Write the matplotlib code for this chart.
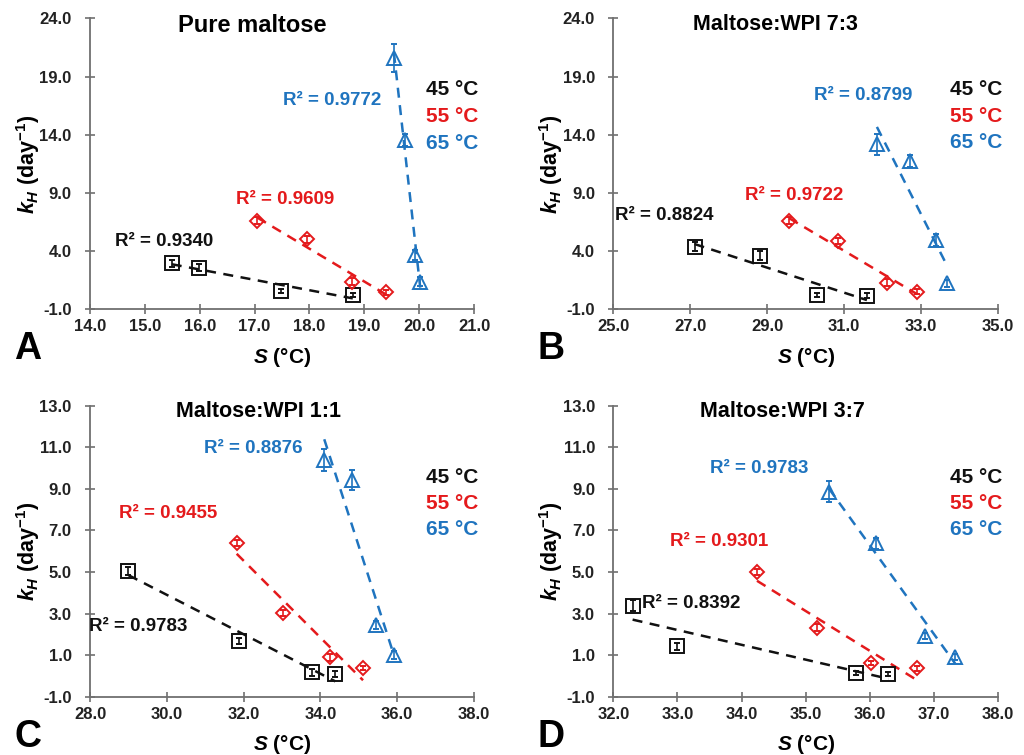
import numpy as np
import matplotlib
matplotlib.use('Agg')
import matplotlib.pyplot as plt

plt.rcParams['font.family'] = ['Liberation Sans', 'DejaVu Sans']
plt.rcParams['font.weight'] = 'bold'
plt.rcParams['mathtext.fontset'] = 'custom'
plt.rcParams['mathtext.rm'] = 'Liberation Sans:bold'
plt.rcParams['mathtext.it'] = 'Liberation Sans:italic:bold'
plt.rcParams['mathtext.bf'] = 'Liberation Sans:bold'

# temperatures 45, 55, 65 C for every panel
temps = ['45 °C', '55 °C', '65 °C']
colors = ['#111111', '#e41a1c', '#1f74bf']
markers = ['s', 'D', '^']

# A: pure maltose
S_A = [[15.49, 15.99, 17.49, 18.79], [17.05, 17.95, 18.78, 19.40], [19.54, 19.75, 19.92, 20.02]]
K_A = [[2.95, 2.58, 0.58, 0.23], [6.62, 5.04, 1.38, 0.46], [20.56, 13.55, 3.67, 1.38]]
E_A = [[0.3, 0.3, 0.2, 0.2], [0.3, 0.3, 0.3, 0.2], [1.2, 0.5, 0.4, 0.4]]
R2_A = ['0.9340', '0.9609', '0.9772']

# B: maltose:WPI 7:3
S_B = [[27.11, 28.80, 30.29, 31.59], [29.57, 30.85, 32.11, 32.89], [31.85, 32.70, 33.39, 33.67]]
K_B = [[4.38, 3.61, 0.23, 0.17], [6.62, 4.87, 1.29, 0.52], [13.20, 11.77, 4.96, 1.23]]
E_B = [[0.4, 0.4, 0.2, 0.2], [0.3, 0.3, 0.3, 0.2], [0.9, 0.5, 0.5, 0.3]]
R2_B = ['0.8824', '0.9722', '0.8799']

# C: maltose:WPI 1:1
S_C = [[29.00, 31.89, 33.78, 34.39], [31.82, 33.03, 34.24, 35.11], [34.10, 34.83, 35.44, 35.92]]
K_C = [[5.06, 1.69, 0.17, 0.09], [6.41, 3.01, 0.89, 0.40], [10.39, 9.43, 2.45, 1.01]]
E_C = [[0.2, 0.15, 0.15, 0.15], [0.15, 0.15, 0.15, 0.1], [0.55, 0.5, 0.2, 0.2]]
R2_C = ['0.9783', '0.9455', '0.8876']

# D: maltose:WPI 3:7
S_D = [[32.30, 32.99, 35.79, 36.29], [34.24, 35.18, 36.02, 36.73], [35.36, 36.10, 36.86, 37.33]]
K_D = [[3.38, 1.42, 0.13, 0.08], [5.01, 2.33, 0.63, 0.36], [8.86, 6.38, 1.93, 0.92]]
E_D = [[0.25, 0.15, 0.1, 0.1], [0.15, 0.15, 0.1, 0.1], [0.5, 0.25, 0.15, 0.15]]
R2_D = ['0.8392', '0.9301', '0.9783']

titles = ['Pure maltose', 'Maltose:WPI 7:3', 'Maltose:WPI 1:1', 'Maltose:WPI 3:7']
letters = ['A', 'B', 'C', 'D']
xticks_all = [np.arange(14, 21.1, 1), np.arange(25, 35.1, 2), np.arange(28, 38.1, 2), np.arange(32, 38.1, 1)]
yticks_all = [np.arange(-1, 24.1, 5), np.arange(-1, 24.1, 5), np.arange(-1, 13.1, 2), np.arange(-1, 13.1, 2)]

panels = [(S_A, K_A, E_A, R2_A), (S_B, K_B, E_B, R2_B), (S_C, K_C, E_C, R2_C), (S_D, K_D, E_D, R2_D)]

# layout / annotation positions (axes fraction)
boxes = [[0.0879, 0.5903, 0.375, 0.3854], [0.599, 0.5903, 0.3757, 0.3854],
         [0.0879, 0.0772, 0.375, 0.3854], [0.599, 0.0772, 0.3757, 0.3854]]
title_pos = [(0.4215, 0.975), (0.4207, 0.98), (0.438, 0.979), (0.439, 0.979)]
r2_pos = [[(0.065, 0.2325), (0.379, 0.376), (0.503, 0.716)],
          [(0.004, 0.324), (0.3426, 0.3895), (0.522, 0.7365)],
          [(-0.002, 0.243), (0.076, 0.628), (0.2966, 0.853)],
          [(0.0737, 0.3207), (0.1474, 0.533), (0.2515, 0.785)]]
leg_y = [[0.754, 0.662, 0.570], [0.756, 0.664, 0.573], [0.754, 0.664, 0.573], [0.754, 0.664, 0.573]]
title_size = [17, 15.5, 15.5, 15.5]

grey = '#707070'
fig = plt.figure(figsize=(10.24, 7.55), dpi=100)

for p in range(4):
    ax = fig.add_axes(boxes[p])
    S, K, E, R2 = panels[p]
    for i in range(3):
        x = np.array(S[i])
        y = np.array(K[i])
        ms = [9.5, 7.5, 10.5][i]
        ax.errorbar(x, y, yerr=E[i], fmt=markers[i], mfc='none', mec=colors[i], ms=ms,
                    mew=1.4, ecolor=colors[i], elinewidth=1.2, capsize=2, zorder=3)
        # linear trend line
        a, b = np.polyfit(x, y, 1)
        xl = np.array([x.min(), x.max()])
        ax.plot(xl, a * xl + b, color=colors[i], lw=1.8, ls=(0, (4, 3)), zorder=2)
        ax.text(r2_pos[p][i][0], r2_pos[p][i][1], 'R² = ' + R2[i], transform=ax.transAxes,
                color=colors[i], fontsize=13.5, fontweight='bold', va='center', ha='left')
        ax.text(0.876, leg_y[p][i], temps[i], transform=ax.transAxes, color=colors[i],
                fontsize=15, fontweight='bold', va='center', ha='left')

    ax.text(title_pos[p][0], title_pos[p][1], titles[p], transform=ax.transAxes,
            fontsize=title_size[p], fontweight='bold', ha='center', va='center')

    xt = xticks_all[p]
    yt = yticks_all[p]
    ax.set_xlim(xt[0], xt[-1])
    ax.set_ylim(yt[0], yt[-1])
    ax.set_xticks(xt, ['%.1f' % v for v in xt])
    ax.set_yticks(yt, ['%.1f' % v for v in yt])
    for s in ['top', 'right']:
        ax.spines[s].set_visible(False)
    for s in ['left', 'bottom']:
        ax.spines[s].set_color(grey)
        ax.spines[s].set_linewidth(1.3)
    ax.tick_params(direction='inout', length=6.5, width=1.2, color=grey,
                   labelsize=12, labelcolor='#222222')
    ax.tick_params(axis='x', pad=4)
    ax.tick_params(axis='y', pad=10)
    for lab in ax.get_xticklabels() + ax.get_yticklabels():
        lab.set_fontweight('bold')
    ax.set_xlabel(r'$S$ (°C)', fontsize=15, fontweight='bold')
    ax.xaxis.set_label_coords(0.5, -0.125)
    ax.xaxis.label.set_va('top')
    ax.set_ylabel(r'$k_H$ (day$^{-1}$)', fontsize=15.5, fontweight='bold')
    ax.yaxis.set_label_coords(-0.125, 0.5)

    bx = boxes[p]
    fig.text(bx[0] - 0.074, bx[1] - 0.029, letters[p], fontsize=27, fontweight='bold',
             ha='left', va='top')

fig.savefig('out.png', dpi=100)
